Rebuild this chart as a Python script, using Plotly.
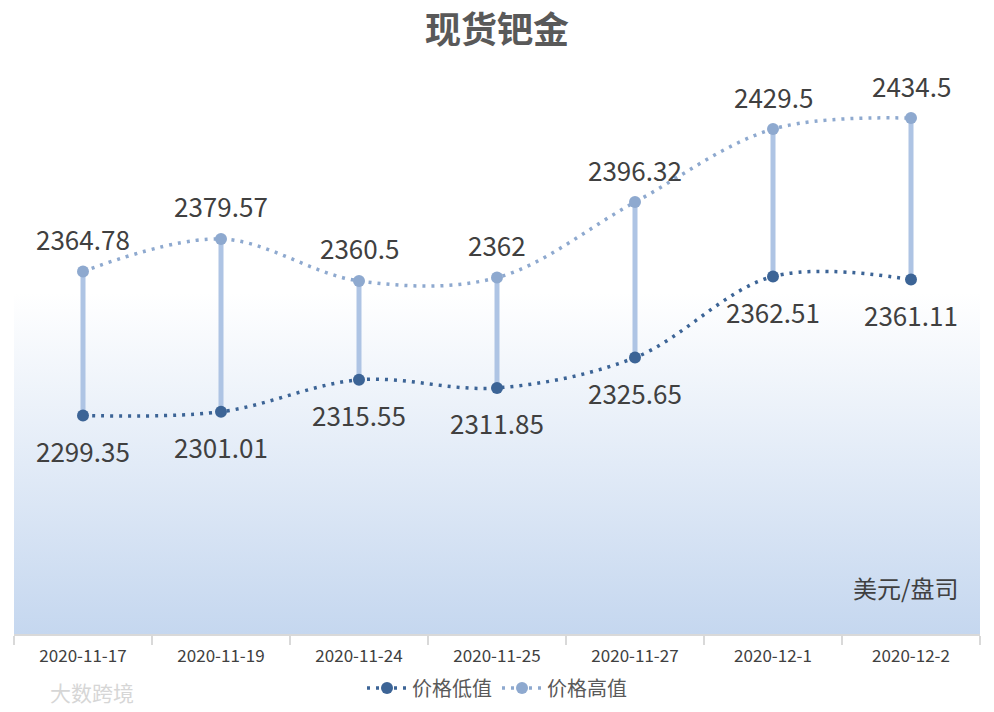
import base64
import plotly.graph_objects as go

dates = ["2020-11-17", "2020-11-19", "2020-11-24", "2020-11-25", "2020-11-27", "2020-12-1", "2020-12-2"]
low_vals = [2299.35, 2301.01, 2315.55, 2311.85, 2325.65, 2362.51, 2361.11]
high_vals = [2364.78, 2379.57, 2360.5, 2362, 2396.32, 2429.5, 2434.5]
low_name = "价格低值"
high_name = "价格高值"
title_text = "现货钯金"
unit_text = "美元/盘司"

LOW_C = "#3C6496"
HIGH_C = "#8EA9CF"
BAR_C = "#AEC4E4"
TXT = "#404040"
CJK = "Noto Sans CJK SC"

fig = go.Figure()

# high-low connector lines
hx, hy = [], []
for d, lo, hi in zip(dates, low_vals, high_vals):
    hx += [d, d, None]
    hy += [lo, hi, None]
fig.add_trace(go.Scatter(x=hx, y=hy, mode="lines", line=dict(color=BAR_C, width=5),
                         hoverinfo="skip", showlegend=False))

fig.add_trace(go.Scatter(
    x=dates, y=low_vals, name=low_name, mode="lines+markers",
    line=dict(color=LOW_C, width=3.5, dash="3px,6px", shape="spline", smoothing=1.0),
    marker=dict(color=LOW_C, size=12), cliponaxis=False))

fig.add_trace(go.Scatter(
    x=dates, y=high_vals, name=high_name, mode="lines+markers",
    line=dict(color=HIGH_C, width=3.5, dash="3px,6px", shape="spline", smoothing=1.0),
    marker=dict(color=HIGH_C, size=12), cliponaxis=False))

annotations = []
for d, v in zip(dates, high_vals):
    annotations.append(dict(x=d, y=v, text=f"{v:g}", showarrow=False, yshift=33,
                            xanchor="center", yanchor="middle",
                            font=dict(family=CJK, size=26, color=TXT)))
for d, v in zip(dates, low_vals):
    annotations.append(dict(x=d, y=v, text=f"{v:g}", showarrow=False, yshift=-35,
                            xanchor="center", yanchor="middle",
                            font=dict(family=CJK, size=26, color=TXT)))
annotations.append(dict(text=unit_text, xref="paper", yref="paper", x=0.979, y=0.084, xanchor="right",
                        yanchor="middle", showarrow=False, font=dict(family=CJK, size=24, color=TXT)))
annotations.append(dict(text="大数跨境", xref="paper", yref="paper", x=0.035, y=-0.105, xanchor="left",
                        yanchor="middle", showarrow=False, font=dict(family=CJK, size=21, color="#D6D6D6")))

svg = ('<svg xmlns="http://www.w3.org/2000/svg" width="100" height="100" preserveAspectRatio="none">'
       '<defs><linearGradient id="g" x1="0" y1="0" x2="0" y2="1">'
       '<stop offset="0" stop-color="#ffffff"/><stop offset="0.38" stop-color="#ffffff"/>'
       '<stop offset="1" stop-color="#C5D7EF"/></linearGradient></defs>'
       '<rect width="100" height="100" fill="url(#g)"/></svg>')
src = "data:image/svg+xml;base64," + base64.b64encode(svg.encode()).decode()

fig.update_layout(
    width=994, height=712,
    margin=dict(l=14, r=14, t=84, b=78, autoexpand=False),
    paper_bgcolor="white", plot_bgcolor="rgba(0,0,0,0)",
    title=dict(text=f"<b>{title_text}</b>", x=0.5, xanchor="center", y=0.958, yanchor="middle",
               font=dict(family=CJK, size=36, color="#595959")),
    images=[dict(source=src, xref="paper", yref="paper", x=0, y=1, sizex=1, sizey=1,
                 xanchor="left", yanchor="top", sizing="stretch", layer="below")],
    xaxis=dict(type="category", range=[-0.5, 6.5], showgrid=False, showline=True,
               linecolor="#D9D9D9", linewidth=2,
               ticks="outside", tickson="boundaries", ticklen=9, tickcolor="#D9D9D9", tickwidth=2,
               tickfont=dict(family=CJK, size=17, color=TXT), ticklabelstandoff=6, zeroline=False,
               automargin=False),
    yaxis=dict(range=[2200, 2450], visible=False, showgrid=False, zeroline=False, automargin=False),
    legend=dict(orientation="h", x=0.5, xanchor="center", y=-0.098, yanchor="middle",
                font=dict(family=CJK, size=20, color="#595959"), itemwidth=40,
                bgcolor="rgba(0,0,0,0)"),
    annotations=annotations,
)

fig.write_html("out.html", config={"displayModeBar": False},
               post_script="document.body.style.margin='0';")
